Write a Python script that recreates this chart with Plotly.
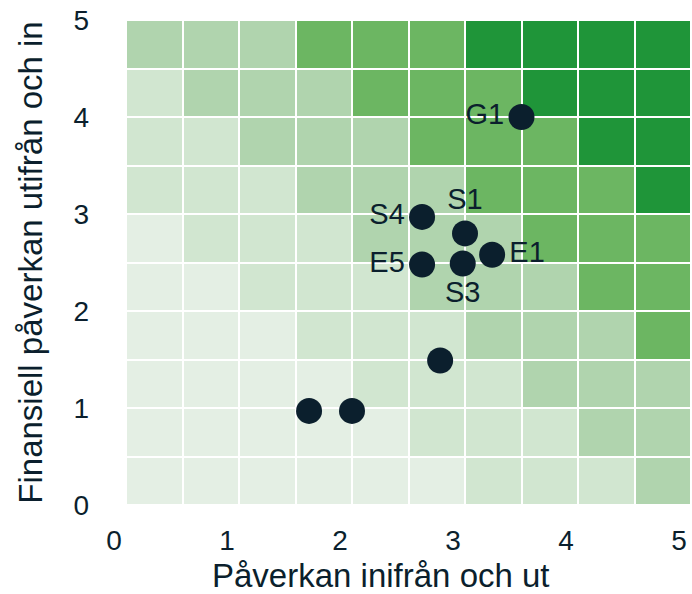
import plotly.graph_objects as go

# Heatmap grid (10 x 10 cells, each 0.5 wide), rows listed from bottom (y 0-0.5) to top
cell_centers = [0.25, 0.75, 1.25, 1.75, 2.25, 2.75, 3.25, 3.75, 4.25, 4.75]
levels = [
    [1, 1, 1, 1, 1, 1, 2, 2, 2, 3],
    [1, 1, 1, 1, 1, 2, 2, 2, 3, 3],
    [1, 1, 1, 1, 2, 2, 2, 3, 3, 3],
    [1, 1, 1, 2, 2, 2, 3, 3, 3, 4],
    [1, 1, 2, 2, 2, 3, 3, 3, 4, 4],
    [1, 2, 2, 2, 3, 3, 3, 4, 4, 4],
    [2, 2, 2, 3, 3, 3, 4, 4, 4, 5],
    [2, 2, 3, 3, 3, 4, 4, 4, 5, 5],
    [2, 3, 3, 3, 4, 4, 4, 5, 5, 5],
    [3, 3, 3, 4, 4, 4, 5, 5, 5, 5],
]
level_colors = ["#e4efe4", "#d1e6d0", "#b0d4ae", "#6cb662", "#1f9539"]

# Points
point_labels = ["G1", "S4", "S1", "E1", "E5", "S3", "", "", ""]
point_x = [3.5, 2.62, 3.0, 3.24, 2.62, 2.98, 2.78, 1.62, 2.0]
point_y = [4.0, 2.97, 2.8, 2.58, 2.48, 2.49, 1.49, 0.97, 0.97]
label_pos = ["middle left", "middle left", "top center", "middle right",
             "middle left", "bottom center", "middle center", "middle center", "middle center"]

tick_vals = [0, 1, 2, 3, 4, 5]
tick_text = ["0", "1", "2", "3", "4", "5"]

x_title = "Påverkan inifrån och ut"
y_title = "Finansiell påverkan utifrån och in"

ink = "#0b1f2d"
font_family = "Liberation Sans, Arial, Helvetica, sans-serif"

n = len(level_colors)
colorscale = [[i / (n - 1), c] for i, c in enumerate(level_colors)]

fig = go.Figure()
fig.add_trace(go.Heatmap(
    x=cell_centers, y=cell_centers, z=levels,
    zmin=1, zmax=n, colorscale=colorscale, showscale=False,
    xgap=2, ygap=2, hoverinfo="skip",
))
fig.add_trace(go.Scatter(
    x=point_x, y=point_y, mode="markers+text",
    text=point_labels, textposition=label_pos,
    marker=dict(size=26, color=ink),
    textfont=dict(size=29, color=ink, family=font_family),
    hoverinfo="skip", showlegend=False,
))

fig.update_layout(
    width=692, height=594,
    margin=dict(l=126, r=1, t=20, b=89),
    plot_bgcolor="white", paper_bgcolor="white",
    font=dict(family=font_family, color=ink),
    showlegend=False,
    annotations=[dict(
        text=x_title, xref="paper", yref="paper", x=0.452, y=-0.145,
        xanchor="center", yanchor="middle", showarrow=False,
        font=dict(size=33, color=ink),
    )],
)
fig.update_xaxes(
    range=[0, 5], tickvals=tick_vals, ticktext=tick_text,
    showgrid=False, zeroline=False, showline=False, ticks="",
    tickfont=dict(size=28, color=ink), ticklabelstandoff=16, ticklabelshift=-12,
    automargin=False, fixedrange=True,
)
fig.update_yaxes(
    range=[0, 5], tickvals=tick_vals, ticktext=tick_text,
    showgrid=False, zeroline=False, showline=False, ticks="",
    tickfont=dict(size=28, color=ink), ticklabelstandoff=36,
    title=dict(text=y_title, font=dict(size=33, color=ink), standoff=20),
    automargin=False, fixedrange=True,
)

fig.write_html("out.html", config={"displayModeBar": False},
               post_script="document.body.style.margin='0';")
